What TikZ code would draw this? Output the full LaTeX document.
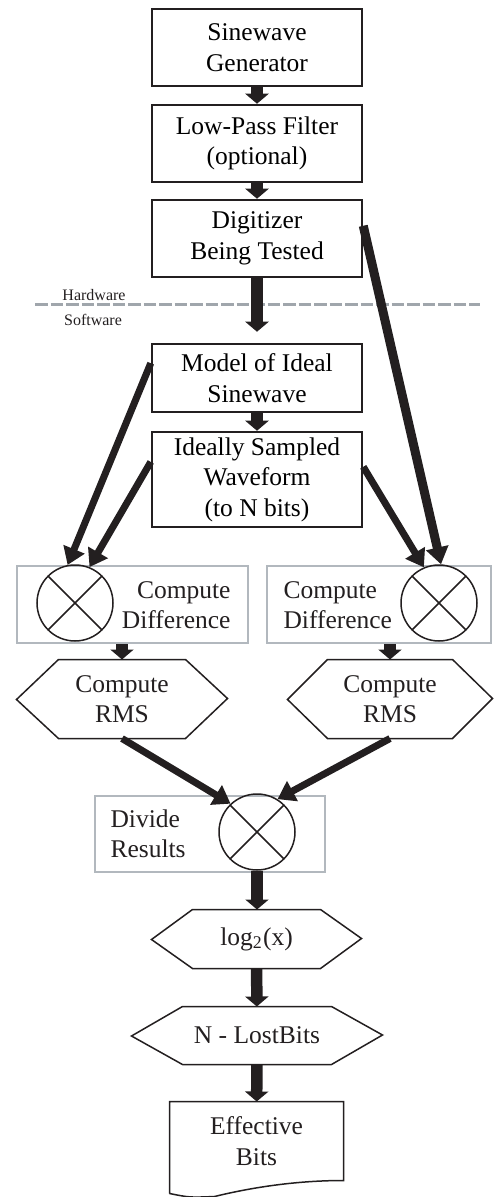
\documentclass[tikz,border=0pt]{standalone}
\usepackage{fontspec}
\setmainfont{Liberation Serif}
\usetikzlibrary{arrows.meta,calc}
\definecolor{framegray}{RGB}{178,184,190}
\definecolor{linegray}{RGB}{160,166,172}
\definecolor{ink}{RGB}{35,31,32}
\tikzset{
  hwb/.style={draw=ink, line width=1pt, minimum width=84pt, align=center, inner sep=0pt},
  cdf/.style={draw=framegray, line width=1pt, minimum height=30.8pt, inner sep=0pt},
  xc/.style={draw=ink, circle, line width=0.6pt, minimum size=30.4pt, inner sep=0pt,
    path picture={\draw[ink, line width=0.6pt]
      (path picture bounding box.north west) -- (path picture bounding box.south east)
      (path picture bounding box.north east) -- (path picture bounding box.south west);}},
  flab/.style={inner sep=0pt, text=ink},
  hexb/.style={align=center, inner sep=0pt, text=ink},
  hexl/.style={draw=ink, line width=0.6pt, line join=miter},
  flow/.style={-{Triangle[length=4pt,width=9.2pt]}, line width=4.6pt, draw=ink},
  dflow/.style={-{Triangle[length=6.8pt,width=8.8pt]}, line width=2.8pt, draw=ink},
  bound/.style={draw=linegray, line width=1.2pt, dash pattern=on 5pt off 1.2pt},
  tag/.style={inner sep=0pt, text=ink, font=\fontsize{6.4}{7}\selectfont},
}
\begin{document}
\begin{tikzpicture}[x=0.4pt, y=-0.4pt, font=\fontsize{10.2}{12.2}\selectfont]
  \useasboundingbox (0,0) rectangle (493,1197);
  % hardware part
  \node[hwb, minimum height=30.8pt] (sgen) at (257,47.5) {Sinewave\\Generator};
  \node[hwb, minimum height=30.8pt] (lpf) at (257,143.5) {Low-Pass Filter\\(optional)};
  \node[hwb, minimum height=30.8pt] (dut) at (257,238.5) {Digitizer\\Being Tested};
  \coordinate (hwL) at (35,305);
  \coordinate (hwR) at (480,305);
  \draw[bound] (hwL) -- (hwR);
  \node[tag] (hwt) at (94,295) {Hardware};
  \node[tag] (swt) at (93,320) {Software};
  % software part
  \node[hwb, minimum height=27.2pt] (model) at (257,378) {Model of Ideal\\Sinewave};
  \node[hwb, minimum height=38pt] (ideal) at (257,479.5) {Ideally Sampled\\Waveform\\(to N bits)};
  \node[cdf, minimum width=92.4pt] (cdL) at (132.5,604.5) {};
  \node[xc] (difL) at (75,603) {};
  \node[flab, anchor=east, align=right] (cdLt) at (231,605) {Compute\\Difference};
  \node[cdf, minimum width=89.6pt] (cdR) at (379,604.5) {};
  \node[xc] (difR) at (439,603) {};
  \node[flab, anchor=west, align=left] (cdRt) at (283,605) {Compute\\Difference};
  \node[hexb, minimum width=50.4pt, minimum height=31.2pt] (rmsL) at (122,699) {Compute\\RMS};
  \draw[hexl] (rmsL.north west) -- (rmsL.north east) -- ++(42,39) -- (rmsL.south east)
    -- (rmsL.south west) -- ++(-42,-39) -- cycle;
  \node[hexb, minimum width=49.6pt, minimum height=31.2pt] (rmsR) at (390,699) {Compute\\RMS};
  \draw[hexl] (rmsR.north west) -- (rmsR.north east) -- ++(40,39) -- (rmsR.south east)
    -- (rmsR.south west) -- ++(-40,-39) -- cycle;
  \node[cdf, minimum width=92pt, minimum height=30.4pt] (divb) at (210,834) {};
  \node[xc] (divc) at (257,832) {};
  \node[flab, anchor=west, align=left] (divt) at (110,834) {Divide\\Results};
  \node[hexb, minimum width=50.8pt, minimum height=23.2pt] (logx) at (256.5,939) {log\textsubscript{2}(x)};
  \draw[hexl] (logx.north west) -- (logx.north east) -- ++(41,29) -- (logx.south east)
    -- (logx.south west) -- ++(-41,-29) -- cycle;
  \node[hexb, minimum width=59.2pt, minimum height=22.8pt] (nlb) at (257,1035.5) {N - LostBits};
  \draw[hexl] (nlb.north west) -- (nlb.north east) -- ++(51,28.5) -- (nlb.south east)
    -- (nlb.south west) -- ++(-51,-28.5) -- cycle;
  \node[hexb, minimum width=69.2pt, minimum height=31.2pt] (eff) at (256.5,1141) {Effective\\Bits};
  \draw[hexl] ($(eff.south west)+(0,13)$) -- (eff.north west) -- (eff.north east) -- (eff.south east)
    .. controls ($(eff.south east)+(-40,0)$) and ($(eff.south west)+(90,5)$) .. ($(eff.south west)+(45,16)$)
    .. controls ($(eff.south west)+(20,17)$) .. ($(eff.south west)+(0,13)$);
  % straight flow
  \draw[flow] (sgen) -- (lpf);
  \draw[flow] (lpf) -- (dut);
  \draw[flow, shorten >=4.4pt] (dut) -- (model);
  \draw[flow] (model) -- (ideal);
  \draw[flow] (rmsL.north |- cdL.south) -- (rmsL.north);
  \draw[flow] (rmsR.north |- cdR.south) -- (rmsR.north);
  \draw[flow] (divc.south) -- (divc.south |- logx.north);
  \draw[flow] (logx) -- (nlb);
  \draw[flow] (nlb) -- (eff);
  % diagonal flow
  \draw[dflow] ($(model.north west)!0.29!(model.south west)$) -- (difL.101);
  \draw[dflow] ($(ideal.north west)!0.32!(ideal.south west)$) -- (difL.68);
  \draw[dflow] ($(ideal.north east)!0.37!(ideal.south east)$) -- (difR.113);
  \draw[dflow, line width=3.6pt] ($(dut.north east)!0.34!(dut.south east)$) -- (difR.87);
  \draw[dflow] (rmsL.south) -- (divc.133);
  \draw[dflow] (rmsR.south) -- (divc.58);
\end{tikzpicture}
\end{document}
